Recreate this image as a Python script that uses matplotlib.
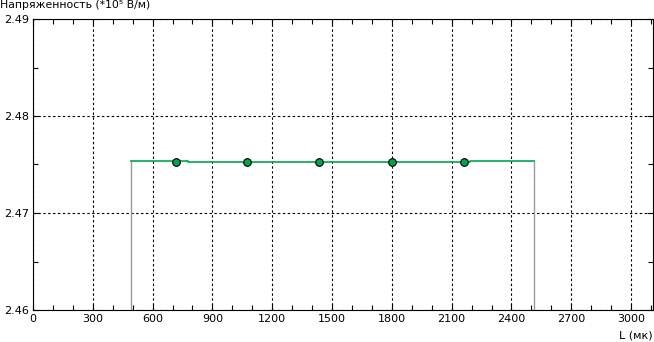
import matplotlib

matplotlib.use("Agg")
import matplotlib.pyplot as plt
from matplotlib.ticker import MultipleLocator

# profile of field strength along L
line_L = [490, 780, 780, 2190, 2190, 2515]
line_E = [2.4754, 2.4754, 2.4753, 2.4753, 2.4754, 2.4754]

# measurement points
point_L = [715, 1075, 1435, 1800, 2160]
point_E = [2.4753, 2.4753, 2.4753, 2.4753, 2.4753]

# structure boundaries
bound_L = [490, 2515]
bound_E = [2.4754, 2.4754]

x_ticks = list(range(0, 3001, 300))
y_ticks = [2.46, 2.47, 2.48, 2.49]

W, H = 654, 342
fig = plt.figure(figsize=(W / 100, H / 100), dpi=100)
ax = fig.add_axes([33 / W, 32 / H, 620 / W, 291 / H])

green = "#00a550"
for bx, by in zip(bound_L, bound_E):
	ax.plot([bx, bx], [2.46, by], color="#999999", lw=1.0, zorder=2)
ax.plot(line_L, line_E, color=green, lw=1.2, zorder=3)
ax.plot(point_L, point_E, ls="none", marker="o", ms=5.5, mfc=green,
		mec="black", mew=0.8, zorder=4)

ax.set_xlim(0, 3110)
ax.set_ylim(2.46, 2.49)
ax.set_xticks(x_ticks)
ax.set_yticks(y_ticks)
ax.set_yticklabels([f"{v:.2f}" for v in y_ticks])
ax.xaxis.set_minor_locator(MultipleLocator(100))
ax.yaxis.set_minor_locator(MultipleLocator(0.005))

ax.grid(True, which="major", color="black", ls=(0, (2.2, 2.2)), lw=0.8)
ax.tick_params(which="both", direction="in", top=True, right=True,
			   labelsize=8, colors="black", pad=3, width=0.8)
ax.tick_params(which="major", length=4)
ax.tick_params(which="minor", length=3.5)
for s in ax.spines.values():
	s.set_linewidth(0.8)

fig.text(0, 1, "Напряженность (*10⁵ В/м)", fontsize=7.8,
		 ha="left", va="top")
fig.text(1 - 1 / W, 1 - 335 / H, "L (мк)", fontsize=8, ha="right",
		 va="center")

fig.savefig("out.png", dpi=100, facecolor="white")
